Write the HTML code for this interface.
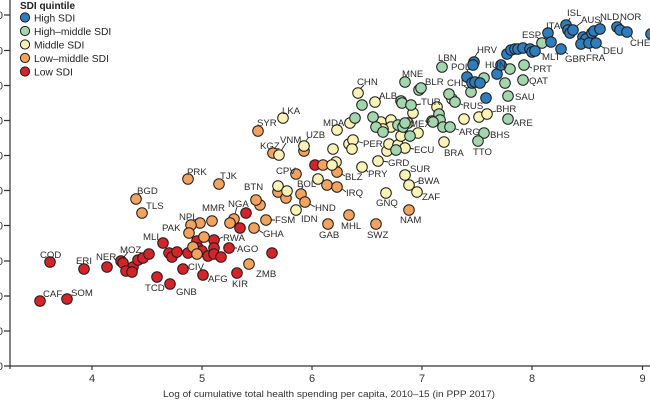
<!DOCTYPE html>
<html><head><meta charset="utf-8"><style>
html,body{margin:0;padding:0;background:#fff;}
svg{display:block;font-family:"Liberation Sans",sans-serif;}
.l{font-size:9.6px;fill:#2a2a2a;}
.b circle{fill:#2f7dbd;}
.g circle{fill:#a3d6ad;}
.y circle{fill:#fbf2b5;}
.o circle{fill:#f3a35e;}
.r circle{fill:#d5232a;}
circle{stroke:#1c1c1c;stroke-width:1;}
.ld{stroke:#2a2a2a;stroke-width:0.9;fill:none;}
</style></head><body>
<svg width="650" height="400" viewBox="0 0 650 400" xmlns="http://www.w3.org/2000/svg">
<!-- axes -->
<g stroke="#333" stroke-width="1.2" fill="none">
<line x1="10" y1="0" x2="10" y2="369"/>
<line x1="10" y1="366" x2="650" y2="366"/>
<path d="M4 15H10M4 50.5H10M4 85.5H10M4 120.5H10M4 155.5H10M4 190.5H10M4 225.5H10M4 261H10M4 296H10M4 331H10M4 366H10"/>
<path d="M92 366V370M202 366V370M312 366V370M422 366V370M532 366V370M642.5 366V370"/>
</g>
<g font-size="11" fill="#333" text-anchor="end">
<text x="3" y="19">0</text><text x="3" y="54.5">0</text><text x="3" y="89.5">0</text><text x="3" y="124.5">0</text><text x="3" y="159.5">0</text><text x="3" y="194.5">0</text><text x="3" y="229.5">0</text><text x="3" y="265">0</text><text x="3" y="300">0</text><text x="3" y="335">0</text><text x="3" y="370">0</text>
</g>
<g font-size="11" fill="#333" text-anchor="middle">
<text x="92" y="382">4</text><text x="202" y="382">5</text><text x="312" y="382">6</text><text x="422" y="382">7</text><text x="532" y="382">8</text><text x="642.5" y="382">9</text>
</g>
<text x="163" y="397" font-size="9.6" fill="#333" textLength="332" lengthAdjust="spacingAndGlyphs">Log of cumulative total health spending per capita, 2010–15 (in PPP 2017)</text>

<!-- legend -->
<text x="20" y="9" font-size="10" font-weight="bold" fill="#222">SDI quintile</text>
<g font-size="10.3" fill="#222">
<circle cx="25" cy="17.5" r="4.6" fill="#2f7dbd"/><text x="34" y="21.5">High SDI</text>
<circle cx="25" cy="31" r="4.6" fill="#a3d6ad"/><text x="34" y="35">High–middle SDI</text>
<circle cx="25" cy="44.5" r="4.6" fill="#fbf2b5"/><text x="34" y="48.5">Middle SDI</text>
<circle cx="25" cy="58" r="4.6" fill="#f3a35e"/><text x="34" y="62">Low–middle SDI</text>
<circle cx="25" cy="71.5" r="4.6" fill="#d5232a"/><text x="34" y="75.5">Low SDI</text>
</g>

<!-- leader lines -->
<path class="ld" d="M570 18L567 24M582 22L574 28M602 20L597 29M621 20L618 26M633 39L629 33M604 48L597 44M591 52L589 46M568 54L562 50M543 54L536 51M551 28L549 32M537 37L541 41M478 52L474 58M467 70L470 75M495 68L497 71M532 68L528 66M529 80L527 80M496 111L488 113M464 86L470 90M463 105L456 102M426 84L421 87M421 104L415 105M411 125L403 131M459 130L453 128M414 149L408 148M363 143L356 141M388 162L382 161M410 171L406 173M419 181L412 184M422 195L419 193M368 172L364 168M345 176L340 173M346 192L341 188M315 207L308 203M275 220L270 220M263 233L257 229M237 248L232 248M223 237L216 240M237 207L235 214M128 252L123 258M275 148L273 151M286 143L281 151M309 137L305 142M364 85L360 89M381 98L377 100M292 172L295 173M303 186L301 190"/>

<!-- Low SDI -->
<g class="r">
<circle cx="40" cy="301" r="5.3"/><circle cx="67" cy="299" r="5.3"/><circle cx="50" cy="262" r="5.3"/><circle cx="84" cy="269" r="5.3"/><circle cx="107" cy="267" r="5.3"/>
<circle cx="121" cy="261" r="5.3"/><circle cx="123" cy="263" r="5.3"/><circle cx="133" cy="267" r="5.3"/><circle cx="138" cy="260" r="5.3"/><circle cx="143" cy="258" r="5.3"/><circle cx="149" cy="254" r="5.3"/>
<circle cx="126" cy="271" r="5.3"/><circle cx="132" cy="272" r="5.3"/>
<circle cx="163" cy="243" r="5.3"/><circle cx="157" cy="277" r="5.3"/><circle cx="170" cy="284" r="5.3"/><circle cx="183" cy="269" r="5.3"/><circle cx="203" cy="275" r="5.3"/><circle cx="237" cy="273" r="5.3"/>
<circle cx="169" cy="253" r="5.3"/><circle cx="172" cy="257" r="5.3"/><circle cx="177" cy="252" r="5.3"/>
<circle cx="188" cy="253" r="5.3"/><circle cx="197" cy="241" r="5.3"/><circle cx="198" cy="248" r="5.3"/><circle cx="202" cy="251" r="5.3"/><circle cx="208" cy="256" r="5.3"/><circle cx="214" cy="240" r="5.3"/><circle cx="214" cy="248" r="5.3"/><circle cx="214" cy="254" r="5.3"/><circle cx="221" cy="257" r="5.3"/>
<circle cx="229" cy="248" r="5.3"/><circle cx="240" cy="228" r="5.3"/><circle cx="246" cy="213" r="5.3"/><circle cx="272" cy="253" r="5.3"/><circle cx="315" cy="165" r="5.3"/>
</g>
<!-- Low-middle -->
<g class="o">
<circle cx="258" cy="131" r="5.3"/><circle cx="273" cy="153" r="5.3"/><circle cx="304" cy="151" r="5.3"/>
<circle cx="296" cy="174" r="5.3"/><circle cx="323" cy="165" r="5.3"/><circle cx="337" cy="172" r="5.3"/>
<circle cx="301" cy="194" r="5.3"/><circle cx="305" cy="202" r="5.3"/><circle cx="327" cy="185" r="5.3"/><circle cx="337" cy="187" r="5.3"/>
<circle cx="278" cy="192" r="5.3"/><circle cx="286" cy="198" r="5.3"/><circle cx="260" cy="205" r="5.3"/><circle cx="256" cy="200" r="5.3"/>
<circle cx="328" cy="224" r="5.3"/><circle cx="349" cy="215" r="5.3"/><circle cx="376" cy="224" r="5.3"/><circle cx="409" cy="210" r="5.3"/>
<circle cx="266" cy="220" r="5.3"/><circle cx="254" cy="228" r="5.3"/>
<circle cx="188" cy="179" r="5.3"/><circle cx="219" cy="184" r="5.3"/><circle cx="136" cy="199" r="5.3"/><circle cx="142" cy="213" r="5.3"/>
<circle cx="234" cy="219" r="5.3"/><circle cx="230" cy="223" r="5.3"/><circle cx="212" cy="221" r="5.3"/><circle cx="200" cy="223" r="5.3"/><circle cx="191" cy="225" r="5.3"/><circle cx="189" cy="233" r="5.3"/>
<circle cx="204" cy="237" r="5.3"/><circle cx="193" cy="247" r="5.3"/><circle cx="197" cy="254" r="5.3"/><circle cx="249" cy="264" r="5.3"/>
</g>
<!-- Middle -->
<g class="y">
<circle cx="283" cy="118" r="5.3"/><circle cx="279" cy="155" r="5.3"/><circle cx="304" cy="146" r="5.3"/>
<circle cx="318" cy="179" r="5.3"/><circle cx="278" cy="186" r="5.3"/><circle cx="287" cy="191" r="5.3"/><circle cx="296" cy="210" r="5.3"/>
<circle cx="336" cy="162" r="5.3"/><circle cx="332" cy="165" r="5.3"/>
<circle cx="362" cy="167" r="5.3"/><circle cx="378" cy="161" r="5.3"/><circle cx="405" cy="175" r="5.3"/><circle cx="409" cy="185" r="5.3"/><circle cx="417" cy="192" r="5.3"/><circle cx="386" cy="193" r="5.3"/>
<circle cx="349" cy="144" r="5.3"/><circle cx="353" cy="140" r="5.3"/><circle cx="352" cy="149" r="5.3"/><circle cx="333" cy="149" r="5.3"/>
<circle cx="387" cy="151" r="5.3"/><circle cx="389" cy="144" r="5.3"/><circle cx="398" cy="145" r="5.3"/><circle cx="405" cy="148" r="5.3"/>
<circle cx="358" cy="93" r="5.3"/><circle cx="375" cy="102" r="5.3"/><circle cx="350" cy="123" r="5.3"/><circle cx="337" cy="130" r="5.3"/>
<circle cx="381" cy="122" r="5.3"/><circle cx="391" cy="120" r="5.3"/><circle cx="391" cy="127" r="5.3"/><circle cx="383" cy="129" r="5.3"/><circle cx="408" cy="123" r="5.3"/><circle cx="418" cy="133" r="5.3"/><circle cx="401" cy="136" r="5.3"/>
<circle cx="413" cy="113" r="5.3"/><circle cx="437" cy="107" r="5.3"/><circle cx="452" cy="99" r="5.3"/><circle cx="464" cy="119" r="5.3"/><circle cx="479" cy="117" r="5.3"/><circle cx="487" cy="114" r="5.3"/><circle cx="444" cy="142" r="5.3"/>
</g>
<!-- High-middle -->
<g class="g">
<circle cx="362" cy="105" r="5.3"/><circle cx="355" cy="118" r="5.3"/><circle cx="373" cy="117" r="5.3"/><circle cx="376" cy="127" r="5.3"/><circle cx="383" cy="132" r="5.3"/>
<circle cx="398" cy="125" r="5.3"/><circle cx="403" cy="127" r="5.3"/><circle cx="405" cy="123" r="5.3"/><circle cx="410" cy="136" r="5.3"/><circle cx="396" cy="150" r="5.3"/>
<circle cx="405" cy="82" r="5.3"/><circle cx="419" cy="90" r="5.3"/><circle cx="421" cy="88" r="5.3"/>
<circle cx="401" cy="101" r="5.3"/><circle cx="402" cy="103" r="5.3"/><circle cx="411" cy="105" r="5.3"/><circle cx="432" cy="121" r="5.3"/>
<circle cx="439" cy="114" r="5.3"/><circle cx="440" cy="120" r="5.3"/><circle cx="433" cy="122" r="5.3"/><circle cx="443" cy="127" r="5.3"/><circle cx="450" cy="127" r="5.3"/>
<circle cx="484" cy="133" r="5.3"/><circle cx="478" cy="141" r="5.3"/><circle cx="508" cy="119" r="5.3"/>
<circle cx="442" cy="67" r="5.3"/><circle cx="471" cy="92" r="5.3"/><circle cx="449" cy="94" r="5.3"/><circle cx="455" cy="102" r="5.3"/>
<circle cx="484" cy="78" r="5.3"/><circle cx="505" cy="83" r="5.3"/><circle cx="510" cy="69" r="5.3"/><circle cx="524" cy="65" r="5.3"/><circle cx="523" cy="80" r="5.3"/><circle cx="508" cy="96" r="5.3"/>
<circle cx="542" cy="43" r="5.3"/>
</g>
<!-- High -->
<g class="b">
<circle cx="486" cy="98" r="5.3"/><circle cx="497" cy="74" r="5.3"/><circle cx="501" cy="65" r="5.3"/>
<circle cx="467" cy="77" r="5.3"/><circle cx="472" cy="83" r="5.3"/><circle cx="475" cy="82" r="5.3"/><circle cx="480" cy="83" r="5.3"/>
<circle cx="474" cy="62" r="5.3"/><circle cx="473" cy="65" r="5.3"/>
<circle cx="507" cy="54" r="5.3"/><circle cx="511" cy="50" r="5.3"/><circle cx="515" cy="49" r="5.3"/><circle cx="518" cy="49" r="5.3"/><circle cx="523" cy="48" r="5.3"/><circle cx="530" cy="49" r="5.3"/><circle cx="532" cy="52" r="5.3"/><circle cx="535" cy="51" r="5.3"/>
<circle cx="548" cy="33" r="5.3"/><circle cx="551" cy="42" r="5.3"/><circle cx="561" cy="49" r="5.3"/>
<circle cx="566" cy="25" r="5.3"/><circle cx="568" cy="30" r="5.3"/><circle cx="570" cy="33" r="5.3"/><circle cx="573" cy="30" r="5.3"/>
<circle cx="583" cy="37" r="5.3"/><circle cx="586" cy="39" r="5.3"/><circle cx="592" cy="33" r="5.3"/><circle cx="594" cy="31" r="5.3"/><circle cx="600" cy="29" r="5.3"/>
<circle cx="581" cy="44" r="5.3"/><circle cx="589" cy="43" r="5.3"/><circle cx="596" cy="43" r="5.3"/>
<circle cx="617" cy="27" r="5.3"/><circle cx="620" cy="30" r="5.3"/><circle cx="627" cy="32" r="5.3"/><circle cx="651" cy="34" r="5.3"/>
</g>

<!-- labels -->
<g class="l">
<text x="567" y="16">ISL</text><text x="581" y="23">AUS</text><text x="600" y="20">NLD</text><text x="620" y="20">NOR</text><text x="630" y="46">CHE</text>
<text x="603" y="54">DEU</text><text x="586" y="61">FRA</text><text x="565" y="62">GBR</text><text x="542" y="60">MLT</text><text x="546" y="29">ITA</text><text x="522" y="38">ESP</text>
<text x="477" y="53">HRV</text><text x="438" y="61">LBN</text><text x="451" y="70">POL</text><text x="485" y="68">HUN</text><text x="533" y="72">PRT</text><text x="529" y="84">QAT</text>
<text x="515" y="100">SAU</text><text x="496" y="112">BHR</text><text x="513" y="126">ARE</text><text x="447" y="86">CHL</text><text x="463" y="109">RUS</text><text x="425" y="85">BLR</text>
<text x="421" y="105">TUR</text><text x="410" y="127">MEX</text><text x="459" y="135">ARG</text><text x="490" y="138">BHS</text><text x="473" y="155">TTO</text><text x="444" y="156">BRA</text>
<text x="402" y="77">MNE</text><text x="357" y="85">CHN</text><text x="379" y="99">ALB</text><text x="282" y="114">LKA</text><text x="257" y="126">SYR</text><text x="323" y="126">MDA</text>
<text x="260" y="149">KGZ</text><text x="280" y="143">VNM</text><text x="306" y="138">UZB</text><text x="363" y="147">PER</text><text x="414" y="153">ECU</text><text x="388" y="166">GRD</text>
<text x="410" y="172">SUR</text><text x="418" y="184">BWA</text><text x="422" y="200">ZAF</text><text x="376" y="206">GNQ</text><text x="400" y="223">NAM</text><text x="367" y="238">SWZ</text>
<text x="341" y="229">MHL</text><text x="319" y="238">GAB</text><text x="301" y="222">IDN</text><text x="315" y="211">HND</text><text x="346" y="196">IRQ</text><text x="297" y="187">BOL</text>
<text x="345" y="180">BLZ</text><text x="368" y="177">PRY</text><text x="276" y="174">CPV</text><text x="275" y="223">FSM</text><text x="263" y="237">GHA</text>
<text x="187" y="175">PRK</text><text x="220" y="179">TJK</text><text x="137" y="194">BGD</text><text x="146" y="209">TLS</text><text x="244" y="190">BTN</text><text x="228" y="207">NGA</text>
<text x="202" y="211">MMR</text><text x="179" y="220">NPL</text><text x="162" y="231">PAK</text><text x="143" y="240">MLI</text><text x="223" y="241">RWA</text><text x="237" y="252">AGO</text>
<text x="188" y="270">CIV</text><text x="208" y="282">AFG</text><text x="232" y="287">KIR</text><text x="256" y="277">ZMB</text><text x="120" y="253">MOZ</text><text x="96" y="260">NER</text>
<text x="76" y="264">ERI</text><text x="40" y="258">COD</text><text x="43" y="297">CAF</text><text x="71" y="296">SOM</text><text x="145" y="291">TCD</text><text x="176" y="295">GNB</text>
</g>
</svg>
</body></html>
